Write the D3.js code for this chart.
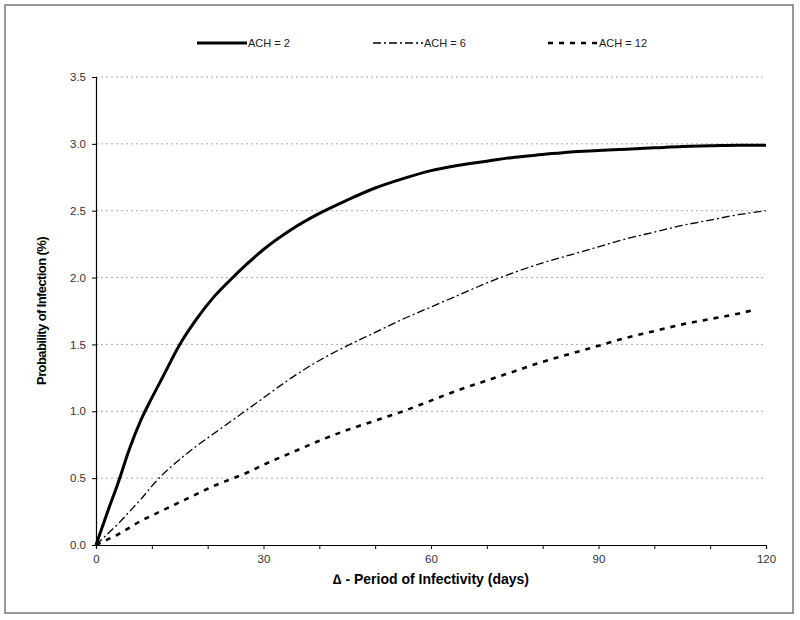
<!DOCTYPE html>
<html><head><meta charset="utf-8">
<script src="https://cdn.jsdelivr.net/npm/d3@7"></script>
<style>body{margin:0;background:#fff}svg{display:block}</style>
</head><body><svg id="c" width="800" height="620"></svg>
<script>
const days = [0,2,4,6,8,10,12,15,18,21,24,27,30,35,40,45,50,55,60,65,70,75,80,85,90,95,100,105,110,115,120];
const ach2 = [0,0.24,0.47,0.72,0.93,1.1,1.26,1.5,1.69,1.85,1.98,2.1,2.21,2.36,2.48,2.58,2.67,2.74,2.8,2.84,2.87,2.9,2.92,2.94,2.95,2.96,2.97,2.98,2.985,2.99,2.99];
const ach6 = [0,0.08,0.16,0.25,0.34,0.44,0.53,0.64,0.74,0.83,0.92,1.01,1.1,1.25,1.38,1.49,1.59,1.69,1.78,1.87,1.96,2.04,2.11,2.17,2.23,2.29,2.34,2.39,2.43,2.47,2.5];
const days12 = [0,2,4,6,8,10,12,15,18,21,24,27,30,35,40,45,50,55,60,65,70,75,80,85,90,95,100,105,110,115,118];
const ach12 = [0,0.04,0.08,0.13,0.18,0.22,0.26,0.32,0.38,0.44,0.49,0.54,0.6,0.69,0.78,0.86,0.93,1.0,1.08,1.16,1.23,1.3,1.37,1.43,1.49,1.55,1.6,1.65,1.69,1.73,1.76];
const seriesNames = ["ACH = 2","ACH = 6","ACH = 12"];
const xTickLabels = [0,30,60,90,120];
const xMinorTicks = [0,10,20,30,40,50,60,70,80,90,100,110,120];
const yTicks = [0,0.5,1.0,1.5,2.0,2.5,3.0,3.5];

const svg = d3.select("#c");
const font = "Liberation Sans, Arial, sans-serif";
svg.append("rect").attr("x",5).attr("y",5).attr("width",788).attr("height",608)
  .attr("fill","none").attr("stroke","#777").attr("stroke-width",1.5);

const x = d3.scaleLinear().domain([0,120]).range([96,766]);
const y = d3.scaleLinear().domain([0,3.5]).range([545,77]);

svg.append("g").selectAll("line").data(yTicks.filter(d=>d>0)).join("line")
  .attr("x1",x(0)).attr("x2",x(120)).attr("y1",d=>y(d)).attr("y2",d=>y(d))
  .attr("stroke","#aaa").attr("stroke-width",1).attr("stroke-dasharray","2,3");

const ya = svg.append("g").attr("transform",`translate(${x(0)},0)`)
  .call(d3.axisLeft(y).tickValues(yTicks).tickFormat(d3.format(".1f")).tickSize(4).tickPadding(6));
ya.select(".domain").attr("stroke","#000").attr("stroke-width",1.2);
ya.selectAll("text").attr("font-family",font).attr("font-size",11.5).attr("fill","#333");

const xa = svg.append("g").attr("transform",`translate(0,${y(0)})`)
  .call(d3.axisBottom(x).tickValues(xMinorTicks).tickFormat(d=>xTickLabels.includes(d)?d:"").tickSize(4).tickPadding(6));
xa.select(".domain").attr("stroke","#000").attr("stroke-width",1.2);
xa.selectAll("text").attr("font-family",font).attr("font-size",11.5).attr("fill","#333");

const line = d3.line().x(d=>x(d[0])).y(d=>y(d[1])).curve(d3.curveMonotoneX);
const styles = [
  {w:3, dash:null},
  {w:1.3, dash:"8,3,2,3"},
  {w:2.6, dash:"5,6"}
];
const data = [d3.zip(days,ach2), d3.zip(days,ach6), d3.zip(days12,ach12)];
data.forEach((d,i)=>{
  svg.append("path").datum(d).attr("d",line).attr("fill","none")
    .attr("stroke","#000").attr("stroke-width",styles[i].w)
    .attr("stroke-dasharray",styles[i].dash);
});

const legX = [197,373,548];
seriesNames.forEach((n,i)=>{
  svg.append("line").attr("x1",legX[i]).attr("x2",legX[i]+50).attr("y1",43).attr("y2",43)
    .attr("stroke","#000").attr("stroke-width",styles[i].w).attr("stroke-dasharray",styles[i].dash);
  svg.append("text").attr("x",legX[i]+51).attr("y",47).text(n)
    .attr("font-family",font).attr("font-size",11).attr("fill","#222");
});

svg.append("text").attr("x",431).attr("y",584).attr("text-anchor","middle")
  .attr("font-family",font).attr("font-size",14).attr("font-weight","bold").attr("fill","#000")
  .text("\u2206 - Period of Infectivity (days)");
svg.append("text").attr("transform","translate(46,311) rotate(-90)").attr("text-anchor","middle")
  .attr("font-family",font).attr("font-size",13).attr("font-weight","bold").attr("fill","#000")
  .attr("letter-spacing","-0.6")
  .text("Probability of Infection (%)");
</script></body></html>
